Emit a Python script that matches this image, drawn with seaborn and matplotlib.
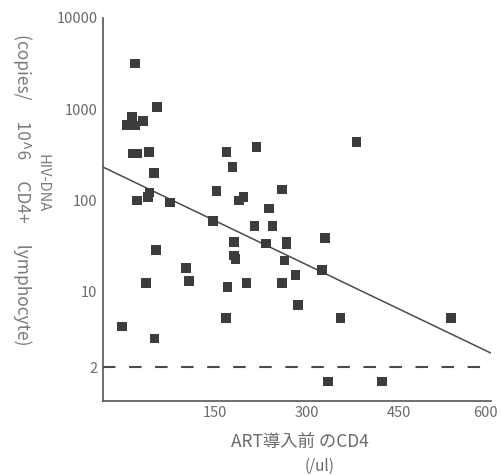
import matplotlib
matplotlib.use("Agg")
import matplotlib.pyplot as plt
import matplotlib.transforms as mtransforms
import seaborn as sns
import pandas as pd

# ----------------------------------------------------------
# DATA
# ----------------------------------------------------------

cd4 = [20, 56, 15, 7, 20, 33, 17, 23, 43, 51, 44, 41, 23, 77, 147,
       169, 179, 218, 153, 190, 197, 260, 239, 215, 244, 181, 234, 267,
       267, 182, 184, 264, 282, 54, 103, 108, 38, 171, 202, 260, 286,
       168, -1, 52, 381, 330, 325, 355, 535, 335, 423]
hiv_dna = [3160, 1050, 830, 670, 660, 740, 325, 325, 340, 200, 122, 110,
           100, 95, 60, 340, 234, 386, 128, 100, 110, 132, 82, 53, 53, 35,
           34, 35, 33, 25, 23, 22, 15.3, 28.6, 18.2, 13.2, 12.5, 11.3, 12.5,
           12.5, 7.2, 5.2, 4.2, 3.1, 437, 38.6, 17.3, 5.2, 5.2, 1.05, 1.05]

# regression line end points
fit_x = [-32, 600]
fit_y = [232, 2.15]

# detection limit line (labelled "2")
limit_y = 1.5

x_ticks = [150, 300, 450, 600]
y_ticks = [limit_y, 10, 100, 1000, 10000]
y_tick_labels = ["2", "10", "100", "1000", "10000"]

df = pd.DataFrame({"cd4": cd4, "dna": hiv_dna})
fit = pd.DataFrame({"x": fit_x, "y": fit_y})

# ----------------------------------------------------------
# PLOT
# ----------------------------------------------------------

sns.set_theme(style="white")
plt.rcParams["font.family"] = ["Noto Sans CJK JP", "DejaVu Sans"]

text_grey = "#6a6a6a"

fig = plt.figure(figsize=(5.01, 4.75), dpi=100)
ax = fig.add_axes([0.2056, 0.156, 0.774, 0.807])

ax.set_yscale("log")

sns.lineplot(data=fit, x="x", y="y", color="#4a4a4a", linewidth=1.1, ax=ax)
ax.axhline(limit_y, color="#4a4a4a", linewidth=1.5,
           linestyle=(0, (6, 6.5)))
sns.scatterplot(data=df, x="cd4", y="dna", marker="s", s=48,
                color="#3c3c3c", edgecolor="none", linewidth=0, ax=ax,
                zorder=3)

ax.set_xlim(-32, 600)
ax.set_ylim(0.644, 10000)
ax.minorticks_off()
ax.set_xticks(x_ticks)
ax.set_yticks(y_ticks)
ax.set_yticklabels(y_tick_labels)
ax.yaxis.get_major_ticks()[0].tick1line.set_visible(False)

ax.tick_params(direction="in", length=6, width=1, color="#555555",
               labelcolor=text_grey, labelsize=10.5, pad=4)

# keep the last x label inside the picture, as in the reference
last = ax.get_xticklabels()[-1]
last.set_horizontalalignment("right")
last.set_transform(last.get_transform() + mtransforms.ScaledTranslation(
    5 / 72, 0, fig.dpi_scale_trans))

for side in ["top", "right"]:
    ax.spines[side].set_visible(False)
for side in ["left", "bottom"]:
    ax.spines[side].set_color("#555555")
    ax.spines[side].set_linewidth(1.2)

ax.set_xlabel("")
ax.set_ylabel("")

fig.text(42 / 501, 1 - 183 / 475, "HIV-DNA", rotation=270,
         ha="center", va="center", color="#7a7a7a", fontsize=10.5)
fig.text(22 / 501, 1 - 190 / 475,
         "(copies/\u3000 10^6\u3000 CD4+\u3000 lymphocyte)",
         rotation=270, ha="center", va="center", color="#7a7a7a",
         fontsize=12.5)

fig.text(300 / 501, 1 - 442 / 475, "ART導入前 のCD4", ha="center",
         va="center", color=text_grey, fontsize=12.5)
fig.text(320 / 501, 1 - 466 / 475, "(/ul)", ha="center", va="center",
         color=text_grey, fontsize=11)

fig.savefig("out.png", dpi=100)
